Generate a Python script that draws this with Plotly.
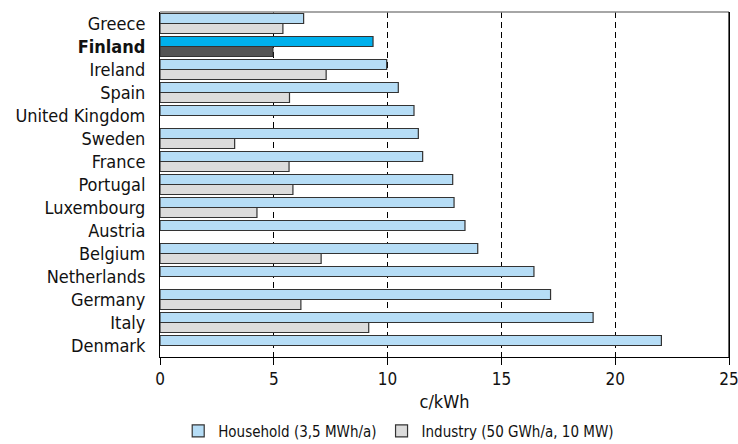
import plotly.graph_objects as go

countries = ["Greece", "Finland", "Ireland", "Spain", "United Kingdom", "Sweden", "France",
             "Portugal", "Luxembourg", "Austria", "Belgium", "Netherlands", "Germany", "Italy", "Denmark"]
household = [6.31, 9.36, 9.96, 10.47, 11.16, 11.35, 11.54, 12.86, 12.92, 13.40, 13.96, 16.43, 17.16, 19.03, 22.03]
industry = [5.40, 4.96, 7.30, 5.69, None, 3.28, 5.67, 5.84, 4.26, None, 7.08, None, 6.19, 9.17, None]
tick_text = ["<b>Finland</b>" if c == "Finland" else c for c in countries]
x_ticks = [0, 5, 10, 15, 20, 25]

FONT = "DejaVu Sans Condensed, sans-serif"
hh_col = ["#00B0EC" if c == "Finland" else "#B6DDF6" for c in countries]
in_col = ["#555555" if c == "Finland" else "#DCDCDC" for c in countries]

fig = go.Figure()
fig.add_trace(go.Bar(y=countries, x=household, orientation="h", name="Household (3,5 MWh/a)",
                     marker=dict(color=hh_col, line=dict(color="#333333", width=1.2))))
fig.add_trace(go.Bar(y=countries, x=industry, orientation="h", name="Industry (50 GWh/a, 10 MW)",
                     marker=dict(color=in_col, line=dict(color="#333333", width=1.2))))

fig.update_layout(
    width=738, height=444,
    margin=dict(l=160, r=9, t=12, b=87, autoexpand=False),
    barmode="group", bargap=0.13, bargroupgap=0,
    plot_bgcolor="white", paper_bgcolor="white",
    font=dict(family=FONT, size=18, color="#111111"),
    showlegend=True,
    legend=dict(orientation="h", x=0.032, xanchor="left", y=-0.215, yanchor="middle",
                font=dict(size=15), itemclick=False, traceorder="normal", itemwidth=30),
    xaxis=dict(range=[0, 25], tickvals=x_ticks, ticks="outside", ticklen=7, tickcolor="black",
               showline=True, linecolor="black", linewidth=1, automargin=False,
               ticklabeloverflow="allow",
               showgrid=True, gridcolor="black", gridwidth=1, griddash="6px,4px",
               zeroline=False, title=dict(text="c/kWh", standoff=6, font=dict(size=18)),
               tickfont=dict(size=17)),
    yaxis=dict(autorange="reversed", tickmode="array", tickvals=countries, ticktext=tick_text,
               showline=True, linecolor="black", linewidth=1, mirror=True, ticks="",
               automargin=False,
               ticklabelstandoff=10, tickfont=dict(size=18), showgrid=False),
    shapes=[dict(type="line", xref="paper", yref="paper", x0=0, x1=1, y0=1, y1=1,
                 line=dict(color="#888888", width=1.5)),
            dict(type="line", xref="paper", yref="paper", x0=1, x1=1, y0=0, y1=1,
                 line=dict(color="black", width=1.2))],
)

# remove the browser's default 8px body margin so the figure fills the window exactly
fig.write_html("out.html", config={"displayModeBar": False},
               post_script="document.body.style.margin='0';document.body.style.overflow='hidden';")
